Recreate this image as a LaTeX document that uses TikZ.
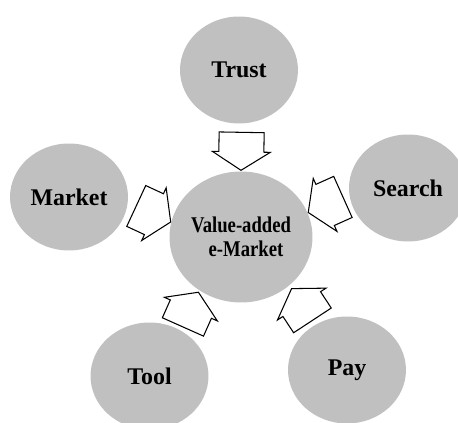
\documentclass[tikz,border=0pt]{standalone}
\usepackage{fontspec}
\setmainfont{Liberation Serif}
\newfontfamily\narrowserif[FakeStretch=0.83]{Liberation Serif}
\usetikzlibrary{shapes.geometric,shapes.arrows}
\definecolor{discgray}{RGB}{192,192,192}
\begin{document}
\begin{tikzpicture}[x=0.02cm,y=0.02cm,
  disc/.style={ellipse,fill=discgray,inner sep=0pt,minimum width=2.36cm,minimum height=2.14cm,font=\fontsize{13.6}{16}\selectfont\bfseries},
  hub/.style={disc,align=center,minimum width=2.86cm,minimum height=2.62cm,font=\narrowserif\fontsize{12.8}{13.6}\selectfont\bfseries},
  fatarrow/.style={single arrow,draw=black,fill=white,semithick,inner xsep=0pt,inner ysep=0.44cm,minimum height=0.76cm,single arrow head extend=0.13cm,single arrow tip angle=115,sloped,allow upside down}]
\useasboundingbox (0,0) rectangle (458,423);
% discs
\node[hub] (center) at (241,186) {Value-added\\\hspace*{0.2cm}e-Market};
\node[disc] (trust) at (239,353) {Trust};
\node[disc] (market) at (69,226) {Market};
\node[disc] (search) at (408,235) {Search};
\node[disc] (tool) at (149.5,47) {Tool};
\node[disc] (pay) at (347,53) {Pay};
% block arrows into the hub
\path (trust.-87) -- node[fatarrow,pos=0.43] (t2c) {} (center.90);
\path (market.-5) -- node[fatarrow,pos=0.44] (m2c) {} (center.168);
\path (search.186) -- node[fatarrow,pos=0.41] (s2c) {} (center.20.6);
\path (tool.55) -- node[fatarrow,pos=0.36] (o2c) {} (center.-128);
\path (pay.125) -- node[fatarrow,pos=0.36] (p2c) {} (center.-45);
\end{tikzpicture}
\end{document}
